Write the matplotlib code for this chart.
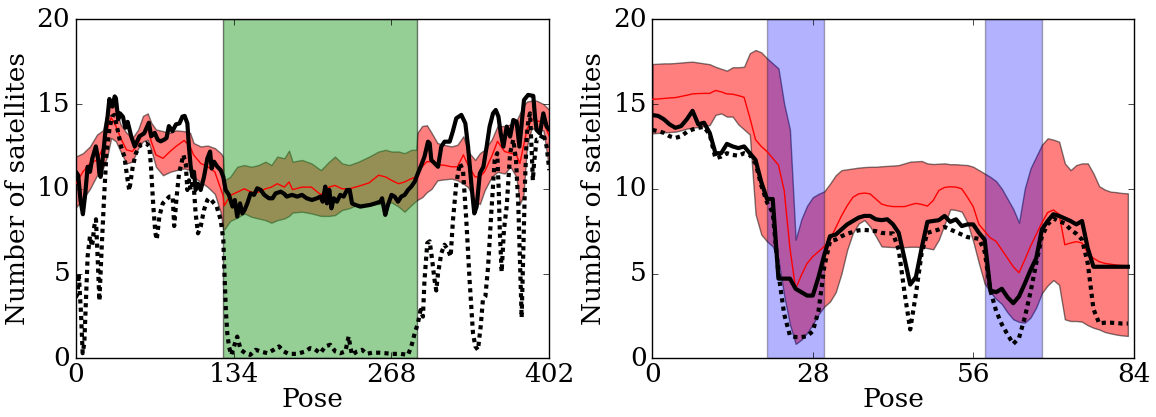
import numpy as np
import matplotlib
matplotlib.use('Agg')
import matplotlib.pyplot as plt

# ---------------- left panel data ----------------
left_band_pose = [0, 6, 12, 18, 23, 27, 30, 34, 38, 43, 48, 53, 57, 61, 64, 68, 74, 80, 85, 92, 97,
                  100, 106, 112, 118, 123, 125, 126, 131, 137, 143, 149, 155, 161, 166, 171, 177, 181,
                  184, 192, 200, 208, 215, 220, 226, 232, 240, 249, 257, 263, 268, 274, 279, 285, 289,
                  290, 294, 298, 302, 307, 312, 319, 324, 329, 333, 339, 343, 347, 353, 358, 364, 369,
                  374, 377, 380, 383, 387, 391, 397, 402]
left_upper = [11.9, 12.1, 12.5, 13.2, 13.45, 14.65, 15.1, 14.7, 13.8, 13.3, 13.0, 13.5, 14.3, 14.45, 13.9,
              13.5, 13.4, 13.3, 13.45, 13.4, 13.3, 12.7, 12.5, 12.55, 12.4, 12.1, 11.9, 10.5, 10.7, 11.3,
              11.4, 11.3, 11.4, 11.6, 11.4, 11.9, 11.8, 12.25, 11.6, 11.7, 11.5, 11.1, 11.6, 11.9, 11.5,
              11.4, 11.6, 11.9, 12.2, 12.3, 12.2, 12.2, 12.1, 12.3, 12.3, 13.3, 13.7, 13.75, 13.3, 12.7,
              12.6, 12.5, 12.6, 13.1, 12.2, 11.7, 12.1, 12.3, 12.9, 13.7, 13.7, 13.8, 14.0, 14.45, 14.9,
              15.15, 15.2, 15.2, 15.0, 14.65]
left_lower = [8.9, 9.4, 10.0, 10.8, 11.2, 12.0, 13.0, 12.8, 12.2, 11.5, 11.6, 12.4, 12.8, 12.9, 12.3,
              11.3, 10.8, 11.0, 11.1, 11.2, 11.1, 10.7, 10.4, 10.1, 9.7, 8.6, 7.6, 7.6, 8.1, 8.3,
              8.55, 8.35, 8.25, 8.15, 8.0, 8.15, 8.25, 8.4, 8.6, 8.65, 8.55, 8.4, 8.4, 8.45, 8.75,
              8.85, 9.1, 9.1, 9.1, 9.14, 9.2, 8.95, 8.65, 9.05, 9.3, 9.35, 9.5, 9.8, 10.0, 10.5,
              10.55, 10.6, 10.5, 10.3, 10.1, 9.3, 9.1, 9.9, 10.7, 11.0, 10.9, 11.3, 10.7, 9.1, 9.6,
              12.5, 13.6, 13.45, 13.45, 11.1]
left_mean = [10.3, 11.0, 11.5, 11.7, 12.4, 13.6, 14.2, 13.7, 13.0, 12.3, 12.2, 12.7, 13.3, 13.6, 12.8,
             12.0, 11.8, 12.2, 12.5, 12.85, 12.5, 12.0, 11.5, 11.3, 11.0, 10.0, 9.6, 9.0, 9.6, 9.8,
             10.0, 9.8, 9.8, 10.0, 10.1, 10.3, 10.1, 10.4, 9.95, 10.1, 10.1, 9.65, 10.1, 10.2, 10.0,
             10.0, 10.15, 10.35, 10.8, 10.7, 10.5, 10.3, 10.4, 10.6, 10.7, 10.9, 11.3, 11.6, 11.6, 11.4,
             11.4, 11.3, 11.3, 12.0, 11.4, 10.7, 10.7, 11.0, 11.9, 12.8, 12.2, 12.1, 12.0, 11.5, 12.5,
             13.5, 14.1, 14.0, 13.95, 13.1]

left_solid_pose = [0, 2, 4, 6, 8, 10, 12, 14, 17, 19, 20, 21, 23, 25, 27, 28.5, 31, 33, 34, 36, 37.5, 40,
                   42, 44, 47, 50, 54, 58, 62, 64, 67, 69.5, 72, 75, 77, 79, 82, 85, 88, 90.5, 92.4, 94.7,
                   96, 97.5, 99, 100.3, 101.7, 103.7, 106, 108.8, 111.7, 114, 115.3, 117.3, 120.2, 123,
                   125.2, 127.2, 130, 133, 135, 137, 139.4, 141.4, 143.3, 145.6, 148.4, 151.3, 154, 157,
                   160, 164, 167, 169.6, 174, 177, 179, 183.5, 188, 192, 196, 200.5, 204.7, 207.6, 209.6,
                   211.8, 213.2, 215.2, 217, 219, 221.7, 224.5, 227.4, 230.2, 232.5, 234.5, 237.3, 241.5,
                   245.8, 250, 254.3, 258.5, 260, 261.3, 262.7, 265, 268, 270.7, 273.5, 276.3, 279.2, 282,
                   284.8, 287.7, 290.4, 293.3, 296, 299, 300.4, 301.8, 304.6, 307.5, 310.3, 313, 317.4,
                   320, 323, 327.3, 330.7, 333, 336, 338.3, 340.3, 343, 346, 348.8, 351.3, 354.2, 356.5,
                   358.8, 360.7, 363, 365.8, 368.7, 371.4, 374.2, 376.6, 378.5, 380.5, 384, 388.4, 389.8,
                   391.2, 394, 396.9, 399.7, 402]
left_solid = [11.0, 10.8, 9.3, 8.5, 9.7, 11.3, 11.0, 11.8, 12.5, 11.7, 10.9, 10.7, 11.9, 13.3, 14.3, 15.3,
              14.85, 15.45, 15.35, 14.1, 14.45, 14.25, 13.6, 13.95, 13.1, 12.5, 13.1, 13.27, 13.9, 13.1,
              13.3, 12.9, 12.8, 12.9, 13.0, 13.7, 13.4, 13.8, 13.86, 14.26, 14.3, 13.86, 12.5, 11.3,
              10.7, 11.0, 9.93, 10.3, 9.93, 10.7, 11.8, 12.2, 11.2, 11.6, 11.3, 11.1, 10.7, 9.93, 9.64,
              8.95, 9.34, 8.36, 9.14, 8.55, 8.75, 9.14, 9.73, 9.64, 10.03, 9.93, 9.64, 9.44, 9.44, 9.73,
              9.83, 9.7, 9.54, 9.64, 9.54, 9.64, 9.44, 9.34, 9.44, 9.54, 9.24, 10.13, 9.14, 9.93, 8.85,
              9.44, 9.24, 9.64, 9.54, 9.93, 9.93, 9.14, 9.05, 8.95, 9.0, 9.05, 9.14, 9.24, 9.44, 8.95,
              8.46, 9.05, 9.64, 9.54, 9.24, 9.54, 9.64, 9.93, 10.13, 10.42, 10.91, 11.4, 11.9, 12.78,
              12.68, 11.7, 11.5, 11.3, 12.49, 12.78, 12.78, 13.37, 14.16, 14.36, 13.86, 12.49, 10.13,
              8.55, 8.95, 10.91, 11.3, 12.49, 13.67, 14.45, 14.65, 14.26, 13.27, 12.49, 13.67, 13.08,
              14.06, 13.96, 12.49, 13.86, 15.24, 15.54, 15.48, 14.26, 13.47, 13.27, 14.45, 13.67, 13.5]

left_dotted_pose = [0, 1.5, 2.5, 4.4, 5.8, 7.2, 8.7, 10, 12, 13.8, 15.7, 17.1, 18.6, 20, 22, 24, 26, 28.5,
                    30.7, 32.7, 35.5, 38.4, 41.2, 44, 45.4, 48.3, 51, 55, 59.6, 62.4, 63.8, 65.8, 67.5,
                    68.7, 71, 73.8, 76.6, 79.4, 82.2, 83.5, 85.6, 87.6, 89.6, 91.3, 93.3, 94.7, 96.1, 97.5,
                    99.8, 101.7, 103.7, 106, 108.8, 111.7, 113, 115, 117.3, 119.6, 123, 125.2, 126.4,
                    127.5, 128.6, 130, 132, 134.3, 137, 140, 144, 148, 152.7, 157, 162.6, 168, 172.5,
                    176.7, 180.7, 187.7, 194.8, 199, 203, 207.6, 211.8, 216, 220.3, 224.5, 228.8, 231.6,
                    233, 234.5, 238.7, 243, 247, 251.4, 257, 262.7, 268.4, 276, 282, 284.8, 287.7, 290.4,
                    292.7, 294.7, 296, 298.4, 300.4, 301.8, 303.2, 304.6, 306, 307.5, 310.3, 313, 316,
                    318.2, 320.2, 323, 326, 328.7, 331.5, 334.3, 337.2, 339.2, 341.4, 343.7, 345.6, 347.7,
                    350, 352.7, 355.6, 357.8, 359, 360, 361.5, 363.5, 365.8, 367.2, 368.7, 371.4, 373.7,
                    375.7, 377.1, 378.5, 380, 381.4, 382.8, 384.2, 385.6, 387.1, 388, 389, 391.2, 394,
                    396.9, 399.7, 402]
left_dotted = [3.6, 3.8, 5.0, 2.65, 0.3, 0.9, 3.6, 6.0, 7.2, 6.6, 7.8, 8.2, 5.8, 3.4, 6.6, 9.5, 12.1,
               13.5, 14.26, 14.36, 13.47, 12.5, 11.9, 10.5, 9.9, 11.3, 12.1, 12.6, 12.7, 12.5, 11.3,
               8.95, 7.4, 7.0, 8.4, 9.14, 9.34, 9.54, 9.54, 7.8, 9.54, 10.9, 11.5, 12.0, 11.5, 9.93,
               10.5, 9.93, 10.5, 8.55, 7.37, 7.77, 8.75, 9.34, 9.44, 9.34, 9.14, 8.95, 8.16, 7.0, 4.6,
               2.65, 1.47, 0.7, 0.2, 0.7, 1.28, 0.5, 0.3, 0.2, 0.5, 0.4, 0.3, 0.5, 0.7, 0.4, 0.26,
               0.26, 0.4, 0.6, 0.53, 0.3, 0.7, 0.8, 0.4, 0.3, 0.4, 1.28, 0.7, 0.2, 0.4, 0.5, 0.26,
               0.33, 0.33, 0.3, 0.26, 0.26, 0.2, 0.7, 1.47, 2.06, 2.85, 2.46, 4.6, 6.8, 6.9, 6.2,
               5.4, 4.6, 4.0, 5.0, 6.2, 6.7, 6.4, 6.0, 8.16, 10.3, 11.5, 11.1, 8.16, 4.6, 1.47, 0.7,
               0.5, 1.87, 3.44, 3.64, 5.4, 8.55, 11.7, 12.1, 10.0, 7.4, 5.1, 7.6, 8.95, 10.5, 12.1,
               12.9, 11.7, 8.95, 5.6, 2.4, 6.6, 10.5, 13.1, 14.06, 14.45, 12.1, 10.5, 11.5, 12.9,
               12.9, 13.27, 12.5, 11.1]

left_span = (125, 290)
left_ticks = [0, 134, 268, 402]

# ---------------- right panel data ----------------
right_pose = list(range(84))
right_upper = [17.36, 17.38, 17.4, 17.4, 17.42, 17.45, 17.48, 17.5, 17.45, 17.4, 17.35, 17.2, 17.08,
               16.97, 17.17, 17.17, 17.2, 18.0, 18.19, 18.05, 17.7, 17.4, 17.1, 15.0, 13.5, 7.0, 8.2,
               9.0, 9.5, 9.7, 9.85, 10.3, 10.8, 11.1, 11.15, 11.2, 11.25, 11.28, 11.3, 11.3, 11.33,
               11.35, 11.37, 11.4, 11.5, 11.6, 11.62, 11.64, 11.5, 11.46, 11.48, 11.5, 11.45, 11.45,
               11.42, 11.4, 11.3, 11.1, 10.9, 10.7, 10.45, 10.0, 9.4, 8.8, 8.0, 10.0, 11.2, 11.9, 12.6,
               12.98, 12.9, 12.78, 11.5, 11.1, 11.4, 11.5, 11.5, 10.9, 10.15, 9.95, 9.83, 9.8, 9.75, 9.73]
right_lower = [13.27, 13.3, 13.33, 13.35, 13.37, 13.45, 13.55, 13.6, 13.65, 13.7, 13.77, 14.36, 14.45,
               14.26, 14.26, 13.8, 13.5, 13.2, 8.5, 7.3, 6.9, 6.6, 5.8, 3.7, 2.0, 0.85, 1.1, 1.5, 2.0,
               2.6, 3.05, 3.35, 3.9, 5.0, 6.4, 7.4, 7.95, 8.16, 7.77, 7.2, 6.6, 6.58, 6.56, 6.55, 6.56,
               6.58, 6.58, 6.56, 6.5, 6.43, 7.0, 7.9, 8.79, 8.75, 8.65, 8.0, 6.9, 5.6, 4.4, 3.9, 3.5,
               3.2, 2.7, 2.3, 2.15, 2.1, 2.4, 3.0, 3.85, 4.3, 4.62, 4.33, 2.3, 2.2, 2.2, 2.16, 1.95,
               1.8, 1.7, 1.55, 1.47, 1.4, 1.35, 1.32]
right_mean = [15.28, 15.3, 15.33, 15.36, 15.38, 15.45, 15.52, 15.6, 15.62, 15.63, 15.63, 15.8, 15.72,
              15.6, 15.58, 15.5, 15.4, 14.2, 12.9, 12.5, 12.2, 11.8, 11.4, 9.9, 6.5, 4.1, 4.9, 5.6,
              6.0, 6.3, 6.6, 7.0, 7.7, 8.4, 9.0, 9.5, 9.7, 9.75, 9.7, 9.4, 9.1, 9.0, 8.95, 8.95, 8.95,
              9.05, 9.14, 9.08, 8.98, 9.3, 9.9, 10.08, 10.12, 10.1, 10.0, 9.5, 8.95, 7.9, 7.5, 7.1,
              6.9, 6.4, 5.9, 5.4, 5.05, 5.8, 6.6, 7.3, 8.0, 8.6, 8.75, 8.5, 6.7, 6.8, 6.88, 6.8, 6.2,
              5.9, 5.7, 5.6, 5.55, 5.5, 5.47, 5.45]
right_solid = [14.35, 14.3, 14.1, 13.8, 13.6, 13.7, 14.1, 14.6, 13.8, 13.9, 13.3, 12.1, 12.1, 12.65,
               12.5, 12.4, 12.5, 12.1, 11.7, 10.4, 9.4, 9.4, 4.7, 4.7, 4.7, 4.1, 3.9, 3.7, 3.7, 4.8,
               6.1, 7.2, 7.3, 7.6, 7.9, 8.1, 8.3, 8.4, 8.4, 8.2, 8.15, 8.2, 7.9, 7.4, 5.9, 4.35, 4.8,
               6.5, 8.05, 8.1, 8.15, 8.4, 8.05, 8.2, 7.8, 7.9, 7.9, 7.4, 7.0, 4.0, 3.9, 4.1, 3.6, 3.25,
               3.65, 4.4, 5.2, 5.9, 7.6, 8.1, 8.5, 8.4, 8.25, 8.1, 7.9, 8.1, 6.5, 5.4, 5.4, 5.4, 5.4,
               5.4, 5.4, 5.4]
right_dotted = [13.47, 13.4, 13.3, 13.1, 13.0, 13.1, 13.35, 13.5, 13.6, 13.65, 13.2, 11.8, 11.9, 12.1,
                12.0, 11.95, 12.1, 12.0, 11.5, 10.2, 9.2, 8.6, 5.0, 2.6, 1.35, 1.25, 1.25, 1.3, 1.6,
                2.8, 5.4, 6.9, 7.0, 7.2, 7.35, 7.45, 7.55, 7.57, 7.55, 7.5, 7.4, 7.37, 7.37, 6.4, 3.9,
                1.7, 3.8, 6.2, 7.4, 7.5, 7.6, 7.75, 7.6, 7.45, 7.3, 7.15, 7.1, 7.05, 6.3, 4.0, 2.8,
                2.0, 1.4, 0.85, 1.2, 2.4, 3.9, 5.6, 7.2, 7.9, 8.25, 8.1, 7.95, 7.6, 7.35, 7.0, 5.6,
                2.9, 2.06, 2.1, 2.1, 2.08, 2.05, 2.05]
right_spans = [(20, 30), (58, 68)]
right_ticks = [0, 28, 56, 84]

# ---------------- drawing ----------------
plt.style.use('classic')
plt.rcParams['font.family'] = ['DejaVu Serif']
plt.rcParams['font.size'] = 19
plt.rcParams['lines.scale_dashes'] = True
plt.rcParams['xtick.major.pad'] = 3

fig = plt.figure(figsize=(11.56, 4.17), dpi=100, facecolor='white')
ax1 = fig.add_axes([0.0656, 0.1408, 0.4096, 0.8129])
ax2 = fig.add_axes([0.5644, 0.1408, 0.4162, 0.8129])

dot_style = (0, (1, 1))

ax1.fill_between(left_band_pose, left_lower, left_upper, facecolor='red', edgecolor='k',
                 alpha=0.5, linewidth=1.0, zorder=1)
ax1.axvspan(left_span[0], left_span[1], facecolor='#2ca02c', edgecolor='k', alpha=0.5, zorder=1.5)
ax1.plot(left_band_pose, left_mean, color='r', lw=1, zorder=3)
ax1.plot(left_dotted_pose, left_dotted, color='k', lw=3, linestyle=dot_style, zorder=3)
ax1.plot(left_solid_pose, left_solid, color='k', lw=3, zorder=4)
ax1.set_xlim(0, 402)
ax1.set_ylim(0, 20)
ax1.set_xticks(left_ticks)
ax1.set_yticks([0, 5, 10, 15, 20])
ax1.set_xlabel('Pose', labelpad=0)
ax1.set_ylabel('Number of satellites')

ax2.fill_between(right_pose, right_lower, right_upper, facecolor='red', edgecolor='k',
                 alpha=0.5, linewidth=1.0, zorder=1)
for a, b in right_spans:
    ax2.axvspan(a, b, facecolor='b', edgecolor='k', alpha=0.3, zorder=1.5)
ax2.plot(right_pose, right_mean, color='r', lw=1, zorder=3)
ax2.plot(right_pose, right_dotted, color='k', lw=3, linestyle=dot_style, zorder=3)
ax2.plot(right_pose, right_solid, color='k', lw=3, zorder=4)
ax2.set_xlim(0, 84)
ax2.set_ylim(0, 20)
ax2.set_xticks(right_ticks)
ax2.set_yticks([0, 5, 10, 15, 20])
ax2.set_xlabel('Pose', labelpad=0)
ax2.set_ylabel('Number of satellites')

fig.savefig('out.png', dpi=100, facecolor='white')
